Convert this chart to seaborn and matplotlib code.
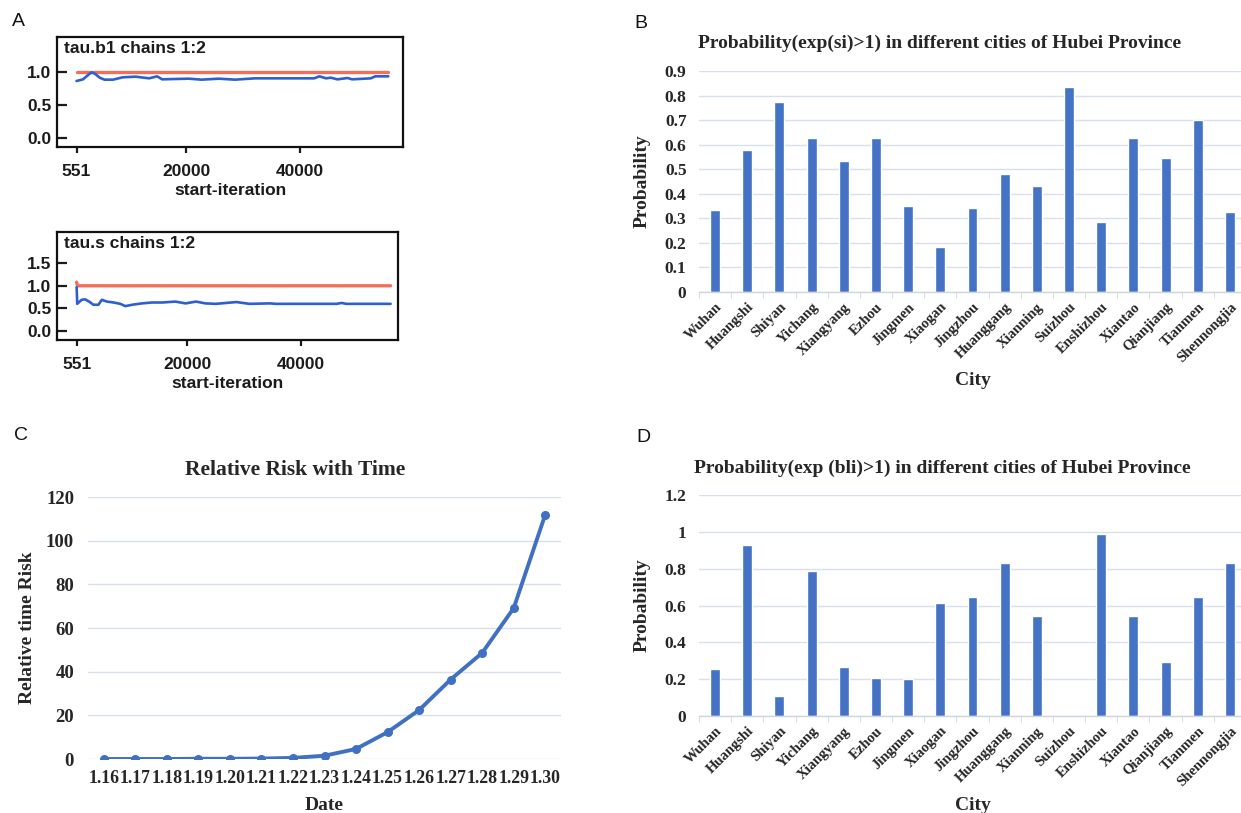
import numpy as np
import pandas as pd
import matplotlib
matplotlib.use("Agg")
import matplotlib.pyplot as plt
import seaborn as sns

# ---------------- data ----------------
cities = ["Wuhan", "Huangshi", "Shiyan", "Yichang", "Xiangyang", "Ezhou", "Jingmen",
          "Xiaogan", "Jingzhou", "Huanggang", "Xianning", "Suizhou", "Enshizhou",
          "Xiantao", "Qianjiang", "Tianmen", "Shennongjia"]
prob_si = [0.334, 0.577, 0.772, 0.626, 0.533, 0.626, 0.350, 0.182, 0.341, 0.479,
           0.432, 0.836, 0.286, 0.626, 0.547, 0.700, 0.327]
prob_bli = [0.256, 0.927, 0.111, 0.785, 0.264, 0.209, 0.202, 0.616, 0.644, 0.829,
            0.542, 0.0, 0.989, 0.545, 0.291, 0.644, 0.833]

dates = ["1.16", "1.17", "1.18", "1.19", "1.20", "1.21", "1.22", "1.23", "1.24",
         "1.25", "1.26", "1.27", "1.28", "1.29", "1.30"]
rel_risk = [0.0, 0.0, 0.0, 0.1, 0.1, 0.2, 0.5, 1.5, 4.6, 12.3, 22.4, 36.4, 48.6, 69.1, 111.9]

# MCMC trace (Brooks-Gelman-Rubin style) panels
tau_b1_iter = [551, 1700, 2600, 3200, 3800, 4650, 5500, 7000, 8700, 11000, 13400, 14800,
               15700, 18000, 20400, 22700, 25700, 28600, 32100, 42600, 43500, 44700,
               45500, 46700, 48500, 49300, 52600, 53400, 55700]
tau_b1_blue = [0.86, 0.885, 0.95, 0.99, 0.97, 0.91, 0.88, 0.88, 0.915, 0.925, 0.90, 0.93,
               0.885, 0.89, 0.895, 0.88, 0.895, 0.88, 0.90, 0.90, 0.93, 0.90,
               0.91, 0.885, 0.905, 0.885, 0.90, 0.93, 0.93]
tau_b1_red_iter = [551, 55700]
tau_b1_red = [1.0, 1.0]

tau_s_iter = [551, 650, 1435, 2030, 2740, 3500, 4380, 4970, 5860, 7040, 8220, 9100, 10300,
              12000, 13800, 15600, 17900, 19700, 21500, 23200, 25000, 28600, 30900,
              34500, 35600, 46200, 47100, 47900, 55700]
tau_s_blue = [0.97, 0.60, 0.69, 0.70, 0.65, 0.58, 0.58, 0.69, 0.65, 0.63, 0.60, 0.55, 0.58,
              0.61, 0.63, 0.63, 0.65, 0.61, 0.65, 0.61, 0.60, 0.64, 0.60,
              0.61, 0.60, 0.60, 0.62, 0.60, 0.60]
tau_s_red_iter = [551, 700, 55700]
tau_s_red = [1.08, 1.0, 1.0]

# ---------------- style ----------------
sns.set_style("white")
plt.rcParams["font.family"] = ["Liberation Sans", "DejaVu Sans"]
SERIF = ["Liberation Serif", "DejaVu Serif"]
BAR_BLUE = "#4472c4"
GRID = "#d7e0ec"

W, H = 1241, 813
fig = plt.figure(figsize=(W / 100, H / 100), dpi=100)
fig.patch.set_facecolor("white")


def ax_px(l, t, r, b):
    return fig.add_axes([l / W, 1 - b / H, (r - l) / W, (b - t) / H])


def fig_text(x, y, s, **kw):
    fig.text(x / W, 1 - y / H, s, **kw)


# ---------------- panel A ----------------
def trace_panel(ax, it_b, v_b, it_r, v_r, title, yticks, ylim):
    sns.lineplot(x=it_r, y=v_r, ax=ax, color="#f2705a", lw=2.4, estimator=None, sort=False)
    sns.lineplot(x=it_b, y=v_b, ax=ax, color="#2d5fcf", lw=1.9, estimator=None, sort=False)
    ax.set_xlim(-2900, 58300)
    ax.set_ylim(*ylim)
    ax.set_xticks([551, 20000, 40000], ["551", "20000", "40000"])
    ax.set_yticks(yticks, [f"{v:.1f}" for v in yticks])
    for s in ax.spines.values():
        s.set_visible(True)
        s.set_color("#111111")
        s.set_linewidth(1.6)
    ax.tick_params(axis="y", direction="in", length=7, width=1.6, labelsize=12.5,
                   pad=4, colors="#1b1b1b", left=True)
    ax.tick_params(axis="x", direction="out", length=4, width=1.6, labelsize=12.5,
                   pad=8, colors="#1b1b1b", bottom=True)
    for lbl in ax.get_xticklabels() + ax.get_yticklabels():
        lbl.set_fontweight("bold")
    ax.text(0.02, 0.96, title, transform=ax.transAxes, va="top", ha="left",
            fontsize=12.5, fontweight="bold", color="#1b1b1b")
    ax.set_xlabel("start-iteration", fontsize=12.5, fontweight="bold", color="#1b1b1b",
                  labelpad=3)
    ax.set_ylabel("")


axA1 = ax_px(57, 37, 403, 147)
trace_panel(axA1, tau_b1_iter, tau_b1_blue, tau_b1_red_iter, tau_b1_red,
            "tau.b1 chains 1:2", [0.0, 0.5, 1.0], (-0.13, 1.52))
axA2 = ax_px(57, 232, 398, 340)
trace_panel(axA2, tau_s_iter, tau_s_blue, tau_s_red_iter, tau_s_red,
            "tau.s chains 1:2", [0.0, 0.5, 1.0, 1.5], (-0.2, 2.19))
axA2.set_xlim(-2900, 57000)


# ---------------- panels B and D ----------------
def bar_panel(ax, vals, yticks, ylabels, title, title_xy, city_y):
    df = pd.DataFrame({"City": cities, "Probability": vals})
    sns.barplot(data=df, x="City", y="Probability", ax=ax, color=BAR_BLUE,
                width=0.31, saturation=1)
    ax.set_xlim(-0.5, len(cities) - 0.5)
    ax.set_ylim(yticks[0], yticks[-1])
    ax.set_yticks(yticks, ylabels, fontfamily=SERIF, fontweight="bold", fontsize=12.5)
    ax.set_xticks(range(len(cities)))
    ax.set_xticklabels(cities, rotation=45, ha="right", va="top", rotation_mode="anchor",
                       fontfamily=SERIF, fontweight="bold", fontsize=10.5)
    ax.yaxis.grid(True, color=GRID, lw=1.0)
    ax.set_axisbelow(True)
    for k in ["top", "right", "left"]:
        ax.spines[k].set_visible(False)
    ax.spines["bottom"].set_color("#cfd6e0")
    ax.spines["bottom"].set_linewidth(1.0)
    ax.tick_params(axis="y", length=0, pad=9)
    ax.tick_params(axis="x", length=0, pad=6)
    ax.set_xticks(np.arange(len(cities) + 1) - 0.5, minor=True)
    ax.tick_params(axis="x", which="minor", length=4, color="#cfd6e0", bottom=True)
    ax.set_ylabel("Probability", fontfamily=SERIF, fontweight="bold", fontsize=14)
    ax.yaxis.set_label_coords((651 - 699) / 547, 0.5)
    ax.set_xlabel("City", fontfamily=SERIF, fontweight="bold", fontsize=14)
    ax.xaxis.set_label_coords(0.5, city_y)
    ax.xaxis.label.set_va("center")
    fig_text(*title_xy, title, ha="center", va="center", fontfamily=SERIF,
             fontweight="bold", fontsize=14)


axB = ax_px(699, 71, 1246, 292)
bar_panel(axB, prob_si, [round(0.1 * i, 1) for i in range(10)],
          ["0"] + [f"{0.1 * i:.1f}" for i in range(1, 10)],
          "Probability(exp(si)>1) in different cities of Hubei Province",
          (940, 43), (292 - 380) / 221)

axD = ax_px(699, 495, 1246, 716)
bar_panel(axD, prob_bli, [0, 0.2, 0.4, 0.6, 0.8, 1.0, 1.2],
          ["0", "0.2", "0.4", "0.6", "0.8", "1", "1.2"],
          "Probability(exp (bli)>1) in different cities of Hubei Province",
          (942, 468), (716 - 805) / 221)

# ---------------- panel C ----------------
axC = ax_px(88, 497, 561, 759)
dfC = pd.DataFrame({"pos": np.arange(len(dates)), "Risk": rel_risk})
sns.lineplot(data=dfC, x="pos", y="Risk", ax=axC, color="#4070c2", lw=2.8,
             marker="o", markersize=6.5, markeredgewidth=0, estimator=None)
axC.set_xlim(-0.5, len(dates) - 0.5)
axC.set_ylim(0, 120)
axC.set_yticks(range(0, 121, 20), [str(v) for v in range(0, 121, 20)],
               fontfamily=SERIF, fontweight="bold", fontsize=13.5)
axC.set_xticks(range(len(dates)), dates, fontfamily=SERIF, fontweight="bold", fontsize=12.8)
axC.yaxis.grid(True, color=GRID, lw=1.0)
axC.set_axisbelow(True)
for k in ["top", "right", "left", "bottom"]:
    axC.spines[k].set_visible(False)
axC.tick_params(axis="y", length=0, pad=10)
axC.tick_params(axis="x", length=0, pad=8)
axC.set_ylabel("Relative time Risk", fontfamily=SERIF, fontweight="bold", fontsize=14)
axC.yaxis.set_label_coords((36 - 88) / 473, 0.5)
axC.set_xlabel("Date", fontfamily=SERIF, fontweight="bold", fontsize=14)
axC.xaxis.set_label_coords(0.5, (759 - 805) / 262)
axC.xaxis.label.set_va("center")
fig_text(295, 470, "Relative Risk with Time", ha="center", va="center",
         fontfamily=SERIF, fontweight="bold", fontsize=15.5)

# ---------------- panel letters ----------------
for letter, (x, y) in {"A": (18, 22), "B": (641, 23), "C": (21, 436), "D": (643, 437)}.items():
    fig_text(x, y, letter, ha="center", va="center", fontsize=14, color="#111111")

fig.savefig("out.png", dpi=100, facecolor="white")
